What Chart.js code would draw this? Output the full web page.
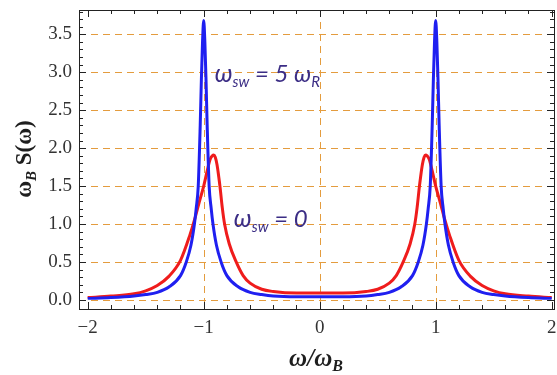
<!DOCTYPE html>
<html>
<head>
<meta charset="utf-8">
<script src="https://cdn.jsdelivr.net/npm/chart.js@4"></script>
<style>
  html, body { margin: 0; padding: 0; background: #fff; }
  #wrap { width: 557px; height: 375px; }
</style>
</head>
<body>
<div id="wrap"><canvas id="specChart"></canvas></div>
<script>
// values
const blueX = [-2.0, -1.8, -1.6, -1.5, -1.4, -1.3, -1.2, -1.15, -1.11, -1.08, -1.065, -1.047, -1.03, -1.02, -1.01, -1.0,
  -0.99, -0.98, -0.97, -0.953, -0.935, -0.92, -0.89, -0.85, -0.8, -0.7, -0.6, -0.5, -0.4, -0.2, 0,
  0.2, 0.4, 0.5, 0.6, 0.7, 0.8, 0.85, 0.89, 0.92, 0.935, 0.953, 0.97, 0.98, 0.99, 1.0,
  1.01, 1.02, 1.03, 1.047, 1.065, 1.08, 1.11, 1.15, 1.2, 1.3, 1.4, 1.5, 1.6, 1.8, 2.0];
const blueY = [0.02, 0.03, 0.05, 0.07, 0.1, 0.17, 0.32, 0.5, 0.72, 1.0, 1.2, 1.5, 2.3, 2.9, 3.4, 3.68,
  3.4, 2.9, 2.3, 1.5, 1.2, 1.0, 0.72, 0.5, 0.32, 0.17, 0.1, 0.07, 0.05, 0.04, 0.04,
  0.04, 0.05, 0.07, 0.1, 0.17, 0.32, 0.5, 0.72, 1.0, 1.2, 1.5, 2.3, 2.9, 3.4, 3.68,
  3.4, 2.9, 2.3, 1.5, 1.2, 1.0, 0.72, 0.5, 0.32, 0.17, 0.1, 0.07, 0.05, 0.03, 0.02];

const redX = [-2.0, -1.8, -1.6, -1.5, -1.4, -1.3, -1.2, -1.12, -1.08, -1.04, -1.0, -0.97, -0.945, -0.925, -0.914,
  -0.9, -0.885, -0.87, -0.86, -0.84, -0.82, -0.78, -0.72, -0.66, -0.6, -0.5, -0.4, -0.2, 0,
  0.2, 0.4, 0.5, 0.6, 0.66, 0.72, 0.78, 0.82, 0.84, 0.86, 0.87, 0.885, 0.9,
  0.914, 0.925, 0.945, 0.97, 1.0, 1.04, 1.08, 1.12, 1.2, 1.3, 1.4, 1.5, 1.6, 1.8, 2.0];
const redY = [0.03, 0.05, 0.08, 0.12, 0.19, 0.31, 0.52, 0.85, 1.05, 1.28, 1.5, 1.7, 1.85, 1.9, 1.91,
  1.88, 1.78, 1.62, 1.5, 1.22, 1.0, 0.74, 0.5, 0.32, 0.22, 0.14, 0.11, 0.09, 0.09,
  0.09, 0.11, 0.14, 0.22, 0.32, 0.5, 0.74, 1.0, 1.22, 1.5, 1.62, 1.78, 1.88,
  1.91, 1.9, 1.85, 1.7, 1.5, 1.28, 1.05, 0.85, 0.52, 0.31, 0.19, 0.12, 0.08, 0.05, 0.03];

const xTicks = [-2, -1, 0, 1, 2];
const yTicks = [0, 0.5, 1.0, 1.5, 2.0, 2.5, 3.0, 3.5];
const xGrid = [-1, 0, 1];
const yGrid = [0, 0.5, 1.0, 1.5, 2.0, 2.5, 3.0, 3.5];

// annotation text and where it sits (data coords)
const notes = [
  { x: -0.905, y: 2.87, main: 'ω', sub: 'sw', rest: ' = 5 ω', sub2: 'R' },
  { x: -0.74, y: 0.96, main: 'ω', sub: 'sw', rest: ' = 0', sub2: '' }
];

function pts(xs, ys) {
  return xs.map((x, i) => ({ x: x, y: ys[i] }));
}

// draw a row of text pieces, each with its own font and vertical shift
function drawRow(ctx, parts, x, y, align) {
  let w = 0;
  parts.forEach(p => { ctx.font = p.font; w += ctx.measureText(p.t).width; });
  let cx = align === 'center' ? x - w / 2 : x;
  ctx.textAlign = 'left';
  ctx.textBaseline = 'alphabetic';
  parts.forEach(p => {
    ctx.font = p.font;
    ctx.fillText(p.t, cx, y + (p.dy || 0));
    cx += ctx.measureText(p.t).width;
  });
}

const frameAndText = {
  id: 'frameAndText',
  beforeDatasetsDraw(chart) {
    const ctx = chart.ctx, a = chart.chartArea;
    const xs = chart.scales.x, ys = chart.scales.y;
    ctx.save();
    ctx.strokeStyle = 'rgb(228,156,62)';
    ctx.lineWidth = 1;
    ctx.setLineDash([7, 5]);
    yGrid.forEach(v => {
      const py = Math.round(ys.getPixelForValue(v)) + 0.5;
      ctx.beginPath(); ctx.moveTo(a.left, py); ctx.lineTo(a.right, py); ctx.stroke();
    });
    xGrid.forEach(v => {
      const px = Math.round(xs.getPixelForValue(v)) + 0.5;
      ctx.beginPath(); ctx.moveTo(px, a.top); ctx.lineTo(px, a.bottom); ctx.stroke();
    });
    ctx.restore();
  },
  afterDraw(chart) {
    const ctx = chart.ctx, a = chart.chartArea;
    const xs = chart.scales.x, ys = chart.scales.y;
    ctx.save();
    // frame
    ctx.strokeStyle = '#222';
    ctx.lineWidth = 1;
    ctx.strokeRect(Math.round(a.left) + 0.5, Math.round(a.top) + 0.5,
      Math.round(a.right - a.left), Math.round(a.bottom - a.top));
    // ticks, inward, on all four sides
    ctx.beginPath();
    for (let i = -20; i <= 20; i++) {
      const v = i / 10;
      const px = Math.round(xs.getPixelForValue(v)) + 0.5;
      if (i % 2 !== 0 || px < a.left || px > a.right) continue;
      const len = i % 10 === 0 ? 7 : 4;
      ctx.moveTo(px, a.bottom); ctx.lineTo(px, a.bottom - len);
      ctx.moveTo(px, a.top); ctx.lineTo(px, a.top + len);
    }
    for (let i = 0; i <= 38; i++) {
      const v = i / 10;
      const py = Math.round(ys.getPixelForValue(v)) + 0.5;
      if (py < a.top || py > a.bottom) continue;
      const len = i % 5 === 0 ? 7 : 4;
      ctx.moveTo(a.left, py); ctx.lineTo(a.left + len, py);
      ctx.moveTo(a.right, py); ctx.lineTo(a.right - len, py);
    }
    ctx.stroke();

    // annotations
    ctx.fillStyle = '#3b2d85';
    notes.forEach(n => {
      const px = xs.getPixelForValue(n.x), py = ys.getPixelForValue(n.y);
      const parts = [
        { t: n.main, font: 'italic 25px Lato' },
        { t: n.sub, font: 'italic 15px Lato', dy: 5 },
        { t: n.rest, font: 'italic 24px Lato' }
      ];
      if (n.sub2) parts.push({ t: n.sub2, font: 'italic 15px Lato', dy: 5 });
      drawRow(ctx, parts, px, py, 'left');
    });

    // axis titles
    ctx.fillStyle = '#1e1e1e';
    drawRow(ctx, [
      { t: 'ω/ω', font: 'italic bold 25px "Liberation Serif"' },
      { t: 'B', font: 'italic bold 16px "Liberation Serif"', dy: 5 }
    ], 316, 366, 'center');

    ctx.save();
    ctx.translate(31, 159);
    ctx.rotate(-Math.PI / 2);
    drawRow(ctx, [
      { t: 'ω', font: 'bold 23px "Liberation Serif"' },
      { t: 'B', font: 'italic bold 15px "Liberation Serif"', dy: 5 },
      { t: ' S(ω)', font: 'bold 23px "Liberation Serif"' }
    ], 0, 0, 'center');
    ctx.restore();
    ctx.restore();
  }
};

const chart = new Chart(document.getElementById('specChart'), {
  type: 'scatter',
  data: {
    datasets: [
      {
        label: 'ω_sw = 5 ω_R',
        data: pts(blueX, blueY),
        showLine: true,
        borderColor: '#1f1ff0',
        borderWidth: 3,
        pointRadius: 0,
        cubicInterpolationMode: 'monotone'
      },
      {
        label: 'ω_sw = 0',
        data: pts(redX, redY),
        showLine: true,
        borderColor: '#ef1c1c',
        borderWidth: 3,
        pointRadius: 0,
        cubicInterpolationMode: 'monotone'
      }
    ]
  },
  options: {
    responsive: true,
    maintainAspectRatio: false,
    animation: false,
    layout: { padding: { top: 10, right: 3, left: 0, bottom: 0 } },
    plugins: { legend: { display: false }, tooltip: { enabled: false } },
    scales: {
      x: {
        type: 'linear',
        min: -2.075,
        max: 2.02,
        afterFit(scale) {
          scale.height = 66;
          scale.paddingLeft = 0;
          scale.paddingRight = 0;
        },
        grid: { display: false, drawTicks: false },
        border: { display: false },
        ticks: {
          stepSize: 1,
          includeBounds: false,
          padding: 8,
          color: '#333',
          font: { family: '"Liberation Serif"', size: 19 },
          callback: v => xTicks.includes(v) ? String(v).replace('-', '\u2212') : ''
        }
      },
      y: {
        type: 'linear',
        min: -0.12,
        max: 3.82,
        afterFit(scale) {
          scale.width = 79;
          scale.paddingTop = 0;
          scale.paddingBottom = 0;
        },
        grid: { display: false, drawTicks: false },
        border: { display: false },
        ticks: {
          stepSize: 0.5,
          includeBounds: false,
          padding: 7,
          color: '#333',
          font: { family: '"Liberation Serif"', size: 19 },
          callback: v => yTicks.includes(v) ? v.toFixed(1) : ''
        }
      }
    }
  },
  plugins: [frameAndText]
});
</script>
</body>
</html>
